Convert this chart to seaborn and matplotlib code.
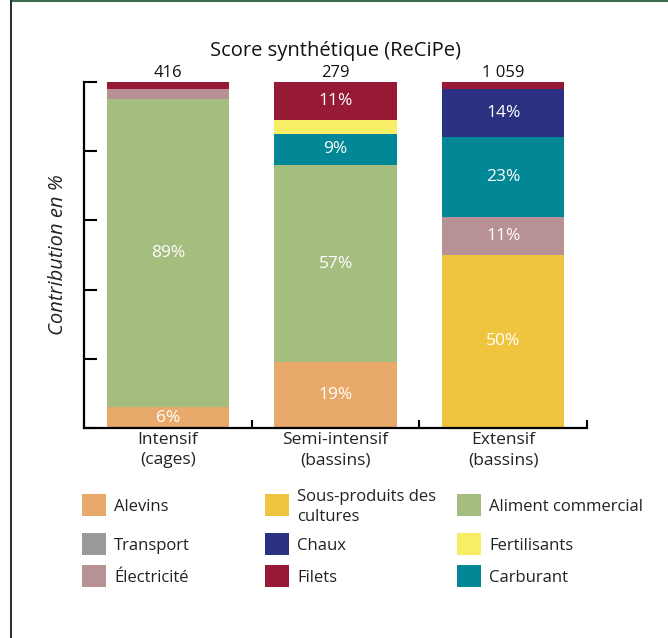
import numpy as np
import pandas as pd
import matplotlib.pyplot as plt
import matplotlib.patches as mpatches
import matplotlib.lines as mlines
import seaborn as sns

# Données
systemes = ["Intensif\n(cages)", "Semi-intensif\n(bassins)", "Extensif\n(bassins)"]
scores = ["416", "279", "1 059"]

postes = ["Alevins", "Sous-produits des\ncultures", "Aliment commercial",
          "Transport", "Chaux", "Fertilisants",
          "Électricité", "Filets", "Carburant"]
couleurs = ["#E8A96A", "#EFC43F", "#A5BD7F",
            "#999999", "#2B3080", "#F7EE66",
            "#B89194", "#961A35", "#018796"]

# ordre d'empilement (bas -> haut)
ordre = ["Alevins", "Sous-produits des\ncultures", "Aliment commercial", "Transport",
         "Électricité", "Carburant", "Fertilisants", "Chaux", "Filets"]

alevins = [6, 19, 0]
sous_produits = [0, 0, 50]
aliment = [89, 57, 0]
transport = [0, 0, 0]
electricite = [3, 0, 11]
carburant = [0, 9, 23]
fertilisants = [0, 4, 0]
chaux = [0, 0, 14]
filets = [2, 11, 2]

valeurs = {
    "Alevins": alevins, "Sous-produits des\ncultures": sous_produits,
    "Aliment commercial": aliment, "Transport": transport,
    "Électricité": electricite, "Carburant": carburant,
    "Fertilisants": fertilisants, "Chaux": chaux, "Filets": filets,
}
couleur_de = dict(zip(postes, couleurs))

df = pd.DataFrame(valeurs, index=systemes)[ordre]
cumul = df.cumsum(axis=1)

sns.set_style("white")
plt.rcParams["font.family"] = ["Open Sans", "DejaVu Sans"]

fig = plt.figure(figsize=(6.68, 6.38), dpi=100)
ax = fig.add_axes([84 / 668, 1 - 428 / 638, (587 - 84) / 668, (428 - 82) / 638])

# barres empilées : on dessine les cumuls du haut vers le bas
for p in reversed(ordre):
    d = pd.DataFrame({"systeme": systemes, "val": cumul[p].values})
    sns.barplot(data=d, x="systeme", y="val", color=couleur_de[p], width=0.73,
                saturation=1, ax=ax, linewidth=0)

# étiquettes de pourcentage
for i, s in enumerate(systemes):
    bas = 0
    for p in ordre:
        v = df.loc[s, p]
        if v >= 5:
            ax.text(i, bas + v / 2, f"{v}%", ha="center", va="center",
                    color="white", fontsize=12.5)
        bas += v
    ax.text(i, 100.2, scores[i], ha="center", va="bottom", fontsize=12, color="#111111")

ax.set_xlim(-0.5, 2.5)
ax.set_ylim(0, 100)
ax.set_xlabel("")
ax.set_ylabel("Contribution en %", fontsize=14.5, style="italic", labelpad=8,
              color="#222222")
ax.set_title("Score synthétique (ReCiPe)", fontsize=14.5, pad=19, color="#111111")

ax.set_yticks([0, 20, 40, 60, 80, 100])
ax.set_yticklabels([])
ax.tick_params(axis="y", direction="in", length=9, width=1.5, left=True, color="black")
ax.set_xticks([0, 1, 2])
ax.set_xticklabels(systemes, fontsize=12.5, linespacing=1.35, color="#222222")
ax.tick_params(axis="x", which="major", length=0, pad=3)
ax.set_xticks([-0.5, 0.5, 1.5, 2.5], minor=True)
ax.tick_params(axis="x", which="minor", direction="in", length=6, width=1.5,
               bottom=True, color="black")

sns.despine(ax=ax)
for sp in ["left", "bottom"]:
    ax.spines[sp].set_linewidth(1.6)
    ax.spines[sp].set_color("black")

# légende
colonnes_x = [82, 265, 457]
lignes_y = [505, 544, 576]
ordre_legende = [["Alevins", "Sous-produits des\ncultures", "Aliment commercial"],
                 ["Transport", "Chaux", "Fertilisants"],
                 ["Électricité", "Filets", "Carburant"]]
for r, ligne in enumerate(ordre_legende):
    for c, p in enumerate(ligne):
        x0, y0 = colonnes_x[c], lignes_y[r]
        fig.add_artist(mpatches.Rectangle((x0 / 668, 1 - (y0 + 11) / 638), 24 / 668, 22 / 638,
                                          transform=fig.transFigure, color=couleur_de[p], lw=0))
        fig.text((x0 + 32) / 668, 1 - (y0 + 2) / 638, p, ha="left", va="center",
                 fontsize=12, color="#222222", linespacing=1.3)

# cadre
fig.add_artist(mlines.Line2D([11 / 668, 1], [0.999, 0.999], color="#3D6B50", lw=1.5,
                             transform=fig.transFigure))
fig.add_artist(mlines.Line2D([11 / 668, 11 / 668], [0, 1], color="#333333", lw=1.5,
                             transform=fig.transFigure))

fig.savefig("out.png", dpi=100)
